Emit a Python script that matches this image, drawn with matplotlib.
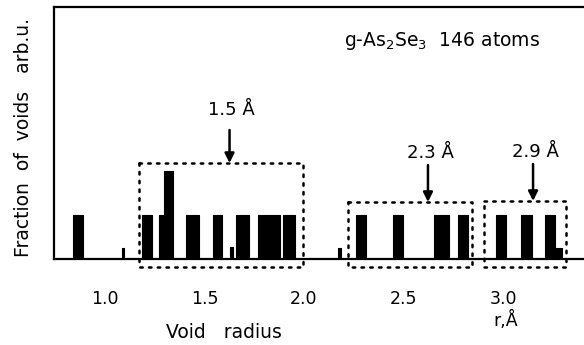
import matplotlib
matplotlib.use("Agg")
import matplotlib.pyplot as plt

# ---- data (void radius in Å, relative fraction) ----
bar_radius = [0.864, 1.090, 1.211, 1.294, 1.319, 1.440, 1.565, 1.636, 1.691,
              1.796, 1.852, 1.925, 2.178, 2.286, 2.472, 2.691, 2.799,
              2.990, 3.118, 3.236, 3.279]
bar_width = [0.050, 0.012, 0.052, 0.045, 0.045, 0.065, 0.045, 0.014, 0.065,
             0.055, 0.055, 0.060, 0.014, 0.050, 0.050, 0.075, 0.050,
             0.050, 0.055, 0.050, 0.035]
bar_height = [1, 0.25, 1, 1, 2, 1, 1, 0.27, 1,
              1, 1, 1, 0.25, 1, 1, 1, 1,
              1, 1, 1, 0.25]

xticks = [1.0, 1.5, 2.0, 2.5, 3.0]
xtick_labels = ["1.0", "1.5", "2.0", "2.5", "3.0"]

# groups: (r_min, r_max, top, label, arrow r)
group_lo = [1.171, 2.221, 2.905]
group_hi = [1.995, 2.844, 3.317]
group_top = [2.17, 1.284, 1.307]
group_label = ["1.5 Å", "2.3 Å", "2.9 Å"]
group_arrow_r = [1.626, 2.623, 3.151]

FS = 12.5
plt.rcParams['font.family'] = ['DejaVu Sans']

fig = plt.figure(figsize=(5.84, 3.45), dpi=100)
ax = fig.add_axes([54/584, 1-258.5/345, (584-54)/584, (258.5-7)/345])
ax.set_xlim(0.744, 3.407)
ax.set_ylim(0, 5.716)

ax.bar(bar_radius, bar_height, width=bar_width, color='black',
       edgecolor='black', linewidth=0.8, joinstyle='round', zorder=3)

# dotted group boxes
bottom = -0.2
for lo, hi, top in zip(group_lo, group_hi, group_top):
    ax.plot([lo, hi, hi, lo, lo], [top, top, bottom, bottom, top],
            linestyle=(0, (1, 2.5)), color='black', linewidth=1.8,
            dash_capstyle='round', clip_on=False, zorder=4)

# arrows + labels
label_gap = [1.2, 1.12, 1.12]
arrow_len = [0.75, 0.84, 0.84]
for lab, ar, top, gap, al in zip(group_label, group_arrow_r, group_top, label_gap, arrow_len):
    ax.annotate('', xy=(ar, top), xytext=(ar, top + al),
                arrowprops=dict(arrowstyle='-|>', color='black', lw=1.8,
                                mutation_scale=14, shrinkA=0, shrinkB=0))
    ax.text(ar + 0.01, top + gap, lab, ha='center', va='center', fontsize=13)

ax.text(2.693, 4.94, r'g-As$_\mathregular{2}$Se$_\mathregular{3}$  146 atoms',
        ha='center', va='center', fontsize=13.5)

ax.set_xticks(xticks)
ax.set_xticklabels(xtick_labels, fontsize=FS)
ax.tick_params(axis='x', length=0, pad=23)
ax.set_yticks([])

for s in ['left', 'top', 'bottom']:
    ax.spines[s].set_linewidth(1.6)
ax.spines['right'].set_visible(False)

fig.text(224/584, 1-332/345, 'Void   radius', ha='center', va='center', fontsize=13.5)
fig.text(506/584, 1-320/345, 'r,Å', ha='center', va='center', fontsize=12.5)
fig.text(24/584, 1-137.5/345, 'Fraction  of  voids   arb.u.', rotation=90,
         ha='center', va='center', fontsize=13.5)

fig.savefig('out.png', dpi=100)
